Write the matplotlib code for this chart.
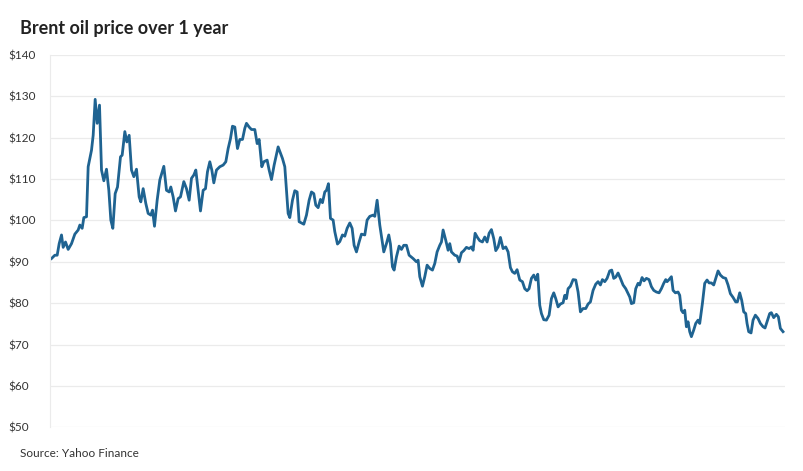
import matplotlib
matplotlib.use("Agg")
import matplotlib.pyplot as plt
import numpy as np

plt.rcParams['font.family'] = ['Lato', 'DejaVu Sans']

# segment 1 (x in sample units) and price
seg1_x = [35,45,52,58,65,70,77,85,95,105,115,120,127,132,140,145,155,160,166,172,179,185,192,200,207,213,219,226,233,242,247,255,261,268,275,282,290,298,303,310,318,325,333,338,344,352,360,372,380,388,393,400,407,415,422,432,440,448,455,462,468,475,482,490,497,503,510,516,522,530,540,550,558,565,572,578,585,593,600,608,615,620,628,635,645,652,658,666,672,682,688,695,703,715,728,735,740,745,750,758,765,772,778,785,792,800,808,815,822,828,835,842,848,855,860,866,872,880,885,893,900,908,915,922,930,937,943,950,958,965,975,982,990,1000,1005,1012,1020,1025,1032,1040,1047,1052,1058,1063,1070,1078,1085,1092,1100,1108]
seg1_p = [90.8,91.6,91.6,94.4,96.5,93.5,94.8,93,94.4,96.7,97.7,98.9,98.1,100.7,100.9,113,117,120.6,129.3,123.5,127.9,112.2,109.6,112.4,107.3,100.1,98.1,106.5,108.1,115.4,115.8,121.5,119,120.6,112.2,110.6,112.4,105.7,104.5,107.7,104.1,101.7,101.3,102.5,98.6,104.9,109.8,113.1,107.3,106.9,108.1,105.7,102.3,105.3,105.7,109.4,107.7,104.9,110.2,111,112.2,107.3,102.3,107.3,107.7,111.8,114.2,112.2,109.1,112.2,113,113.4,114.2,117.4,119.8,122.8,122.6,117.4,119.6,119.6,122.3,123.5,122.6,122,122,118.6,119.6,113,114.2,114.6,112.2,109.9,113.4,117.8,115,113,107.3,101.7,100.7,104.9,107.2,106.9,99.7,99.4,99.1,101.3,104.9,106.9,106.5,103.7,103.1,105.1,104.3,106.9,107.3,108.9,100.5,100.1,97.3,94.3,94.9,96.5,96.2,98.1,99.4,98.1,94,92.4,94.8,96.7,96.5,100.1,101,101.3,101,104.9,98.9,96.2,92.4,94.4,96.5,94.3,88.8,88,91.2,93.8,93,94,94,91.6]
seg2_x = [10,20,25,30,38,45,52,60,68,75,82,90,95,100,108,115,120,125,135,142,148,155,162,170,178,185,190,196,203,210,218,225,232,238,245,252,258,265,272,280,288,295,302,308,315,322,330,338,345,352,358,365,372,378,384,390,395,402,410,418,425,432,438,445,452,460,465,470,475,482,490,498,505,512,520,528,535,542,550,558,565,572,578,585,592,600,606,612,618,625,632,640,648,655,660,665,672,678,685,690,697,703,710,718,725,732,740,748,755,762,768,772,778,785,790,797,805,810,815,820,825,830,835,840,845,852,858,865,870,878,885,892,898,905,912,918,925,932,940,948,955,962,970,978,983,990,996,1002,1008,1012,1017,1024,1030,1037,1045,1052,1060,1066,1072,1080,1085,1092,1100,1106,1112,1120]
seg2_p = [90.8,90,90.4,86.4,84.1,86.4,89.2,88.4,88,89.6,92.4,94,94.8,97.7,95.2,92.8,94.4,92.4,91.6,91.4,90,92.2,92.7,93.5,93.2,93.6,92.8,96.9,95.9,95.1,94.8,96,94.8,96.9,97.8,95.6,92.7,93.6,95.9,93.2,93.6,92.4,88.6,87.6,87.2,88.1,85.6,85.2,83.5,83,83.5,86,86.8,85.6,87,79.5,77.5,76,75.9,77.1,81.1,82.5,81.1,79.1,79.8,80.1,81.9,81.1,83.5,84.1,85.7,85.6,82.7,77.9,78.7,78.7,79.8,80.3,83.1,84.6,85.2,84.4,85.7,85.2,86,87.8,88,86,86.3,87.3,86,84.4,83.5,82.3,81.5,79.9,80.1,83.5,84.8,84.4,86.2,85.4,86,85.7,84,83.1,82.7,82.5,83.5,84.8,85.7,85.2,85.7,86.4,83.1,82.5,82.7,81.9,78.3,77.7,78.3,74.3,75.5,73.1,71.9,73.5,75.1,75.9,75.1,79.9,84.8,85.6,84.9,84.9,84.4,86,87.8,86.8,86.2,86,84.4,82.3,81.4,80.3,80.3,82.5,80.7,77.9,77.5,75.1,73.1,72.8,75.9,77.1,76.3,75.1,74.3,74,75.5,77.5,77.7,76.5,77.3,76.7,73.9,73.1]

t = np.concatenate([np.array(seg1_x) / 3 - 10, np.array(seg2_x) / 3 + 360])
price = np.array(seg1_p + seg2_p)

yticks = [50, 60, 70, 80, 90, 100, 110, 120, 130, 140]
ytick_labels = ['$' + str(v) for v in yticks]

fig = plt.figure(figsize=(8.04, 4.71), dpi=100)
ax = fig.add_axes([0.062, 0.093, 0.914, 0.79])
ax.plot(t, price, color='#1f6391', lw=2.0, solid_joinstyle='round')
ax.set_xlim(0, 735)
ax.set_ylim(50, 140)
ax.set_yticks(yticks)
ax.set_yticklabels(ytick_labels, fontsize=8.5, color='#333333', ha='left')
ax.tick_params(axis='y', length=0, pad=30)
ax.set_xticks([])
ax.grid(axis='y', color='#ebebeb', lw=0.9)
ax.set_axisbelow(True)
for s in ['top', 'right', 'bottom']:
    ax.spines[s].set_visible(False)
ax.spines['left'].set_color('#ebebeb')

fig.text(0.025, 0.94, 'Brent oil price over 1 year', fontsize=13, fontweight='bold', color='#222222', va='center')
fig.text(0.025, 0.037, 'Source: Yahoo Finance', fontsize=8.5, color='#333333', va='center')
fig.savefig('out.png', dpi=100)
